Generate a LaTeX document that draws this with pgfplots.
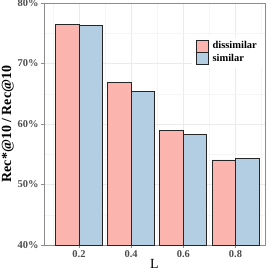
\documentclass[border=0pt]{standalone}
\usepackage{pgfplots}
\pgfplotsset{compat=1.18}
\usepackage{fontspec}
\setmainfont{Liberation Serif}
\definecolor{pinkbar}{HTML}{FBB4AE}
\definecolor{bluebar}{HTML}{B3CDE3}
\definecolor{gridmaj}{HTML}{EBEBEB}
\definecolor{gridmin}{HTML}{F5F5F5}
\definecolor{axgray}{HTML}{8C8C8C}
\definecolor{ticktext}{HTML}{4D4D4D}
\begin{document}
\begin{tikzpicture}
\useasboundingbox (0,0) rectangle (274bp,274bp);
\begin{axis}[
  at={(44bp,29bp)}, anchor=south west,
  scale only axis, width=221bp, height=242bp,
  xmin=0.066, xmax=0.913, ymin=40, ymax=80,
  xtick={0.2,0.4,0.6,0.8},
  xticklabels={0.2,0.4,0.6,0.8},
  minor xtick={0.1,0.3,0.5,0.7,0.9},
  ytick={40,50,60,70,80},
  yticklabels={40\%,50\%,60\%,70\%,80\%},
  minor ytick={45,55,65,75},
  grid=both,
  major grid style={gridmaj, line width=0.6pt},
  minor grid style={gridmin, line width=0.4pt},
  axis line style={axgray, line width=0.8pt},
  tick align=outside,
  major tick length=3bp, minor tick length=0pt,
  tick style={axgray, line width=0.6pt},
  xtick pos=bottom, ytick pos=left,
  /pgf/number format/assume math mode=true,
  ticklabel style={font=\bfseries\fontsize{10.5}{10.5}\selectfont, text=ticktext},
  xticklabel style={yshift=1bp},
  yticklabel style={xshift=1bp},
  xlabel={L},
  ylabel={\textbf{Rec*@10 / Rec@10}},
  xlabel style={font=\fontsize{14}{14}\selectfont, yshift=5bp},
  ylabel style={font=\fontsize{14}{14}\selectfont, yshift=-3bp},
  legend style={at={(0.668,0.862)}, anchor=north west, draw=none, fill=white,
    font=\bfseries\fontsize{10.5}{10.5}\selectfont, row sep=0pt,
    inner xsep=4bp, inner ysep=3bp,
    nodes={inner ysep=0pt, inner xsep=4bp, text height=8.5bp, text depth=3.5bp}},
  legend cell align=left,
  legend image code/.code={\draw[#1, line width=0.8pt] (0bp,-6bp) rectangle (12bp,6bp);},
]
\addplot[ybar, bar width=0.09, bar shift=-0.045, fill=pinkbar, draw=black!85, line width=0.8pt]
  coordinates {(0.2,76.5) (0.4,66.8) (0.6,58.9) (0.8,54.05)};
\addlegendentry{dissimilar}
\addplot[ybar, bar width=0.09, bar shift=0.045, fill=bluebar, draw=black!85, line width=0.8pt]
  coordinates {(0.2,76.3) (0.4,65.45) (0.6,58.3) (0.8,54.3)};
\addlegendentry{similar}
\end{axis}
\end{tikzpicture}
\end{document}
